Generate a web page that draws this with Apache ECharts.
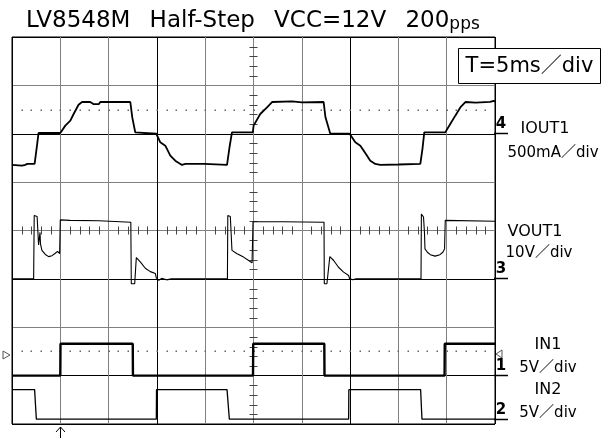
<!DOCTYPE html>
<html><head><meta charset="utf-8">
<script src="https://cdn.jsdelivr.net/npm/echarts@6/dist/echarts.min.js"></script>
<style>html,body{margin:0;padding:0;background:#fff}#c{width:614px;height:440px}</style>
</head><body><div id="c"></div>
<script>
// ---- data ----
// time axis: 0..50 ms (5 ms/div, 10 div)
const timeTicks = [0, 5, 10, 15, 20, 25, 30, 35, 40, 45, 50];
// IOUT1 [ms, mA]  (500 mA/div)
const iout1 = [[0,-322],[1.0,-330],[1.04,-340],[1.3,-325],[1.58,-312],[2.34,-312],[2.55,-150],[2.75,8],[5.0,8],[5.52,84],[6.04,135],[6.38,204],[6.89,300],[7.25,328],[8.1,328],[8.42,307],[9.0,307],[9.14,328],[12.25,328],[12.45,170],[12.76,14],[14.94,0],[15.35,-89],[15.87,-123],[16.39,-226],[16.9,-278],[17.6,-322],[17.94,-312],[19.91,-312],[20.0,-322],[22.26,-322],[22.5,-150],[22.77,14],[24.93,14],[25.01,84],[25.7,204],[26.4,272],[26.92,328],[29,335],[30,325],[32.26,328],[32.45,170],[32.95,0],[34.95,0],[35.54,-89],[36.06,-123],[36.57,-200],[37.09,-278],[37.61,-312],[38.13,-322],[40,-318],[42.27,-312],[42.5,-150],[42.68,14],[44.85,14],[45.37,101],[45.89,187],[46.41,272],[46.93,328],[48,322],[49.5,330],[49.86,340],[50,330]];
// VOUT1 [ms, V]  (10 V/div)
const vout1 = [[0,0],[2.24,0],[2.3,13.1],[2.6,12.9],[2.75,7.0],[2.9,9.6],[2.95,7.2],[3.1,5.9],[3.45,5.05],[3.79,4.6],[4.14,4.8],[4.48,5.3],[4.72,5.7],[4.93,5.2],[5.0,12.2],[6,12.1],[9,12.0],[12.3,11.7],[12.35,-1.0],[12.7,-1.0],[12.87,4.4],[13.28,3.5],[13.8,2.2],[14.32,1.5],[14.84,1.1],[14.94,0.2],[15.2,-0.3],[15.5,0.1],[16,-0.2],[16.5,0],[22.3,0],[22.34,13.1],[22.6,12.9],[22.77,5.9],[23.3,5.2],[23.97,4.5],[24.5,3.8],[24.85,3.3],[24.95,11.8],[28,11.8],[32.3,11.7],[32.33,-1.0],[32.6,-1.0],[32.9,4.6],[33.3,3.8],[33.8,2.4],[34.33,1.4],[34.85,0.7],[34.95,0],[35.3,-0.2],[35.6,0],[42.34,0],[42.38,13.4],[42.6,12.8],[42.7,9.5],[42.75,6.2],[43.0,5.5],[43.3,5.0],[43.8,4.7],[44.3,5.0],[44.6,5.5],[44.78,6.2],[44.85,12.1],[50,11.9]];
// IN1 [ms, V]  (5 V/div)
const in1 = [[0,0],[5.0,0],[5.02,3.3],[12.5,3.3],[12.52,0],[24.95,0],[24.97,3.3],[32.33,3.3],[32.35,0],[44.78,0],[44.8,3.3],[50,3.3]];
// IN2 [ms, V]  (5 V/div)
const in2 = [[0,3.05],[2.34,3.05],[2.52,0],[14.94,0],[14.96,3.05],[22.26,3.05],[22.5,0],[34.85,0],[34.87,3.05],[42.3,3.05],[42.44,0],[50,0]];

const GAP = '  \u2009';
const titleText = 'LV8548M' + GAP + 'Half-Step' + GAP + 'VCC=12V' + GAP + '200';
const titleSmall = 'pps';
const timebaseText = 'T=5ms\uFF0Fdiv';
const chLabels = [
  {mark:'4', name:'IOUT1', scale:'500mA\uFF0Fdiv'},
  {mark:'3', name:'VOUT1', scale:'10V\uFF0Fdiv'},
  {mark:'1', name:'IN1', scale:'5V\uFF0Fdiv'},
  {mark:'2', name:'IN2', scale:'5V\uFF0Fdiv'}
];

// ---- chart ----
const FONT = "'DejaVu Sans','Noto Sans CJK JP',sans-serif";
const chart = echarts.init(document.getElementById('c'), null, {renderer:'canvas'});
const GR = '#808080';
const xGridColors = ['#000',GR,GR,'#000',GR,GR,GR,'#000',GR,GR,'#000'];
const yGridColors = ['#000','#000',GR,'#000',GR,GR,'#000',GR,'#000'];

function graticule(params, api) {
  const kids = [];
  const cx = 25, cy = 4;
  for (let v = 0.2; v < 8; v += 0.2) {
    if (Math.abs(v - Math.round(v)) < 0.01) continue;
    const p = api.coord([cx, v]);
    const y = Math.round(p[1]) + 0.5;
    kids.push({type:'line', shape:{x1:p[0]-4, y1:y, x2:p[0]+4, y2:y}, style:{stroke:'#444', lineWidth:1}});
  }
  for (let t = 1; t < 50; t += 1) {
    if (t % 5 === 0) continue;
    const p = api.coord([t, cy]);
    const x = Math.round(p[0]) + 0.5;
    kids.push({type:'line', shape:{x1:x, y1:p[1]-4, x2:x, y2:p[1]+4}, style:{stroke:'#444', lineWidth:1}});
  }
  [6.5, 1.5].forEach(function(lv){
    for (let t = 1; t < 50; t += 1) {
      const p = api.coord([t, lv]);
      kids.push({type:'rect', shape:{x:Math.round(p[0])-0.5, y:Math.round(p[1])-0.5, width:1.5, height:1.5}, style:{fill:'#666'}});
    }
  });
  return {type:'group', children:kids};
}

const graphics = [
  {type:'rect', z:100, shape:{x:458.5, y:48.5, width:142, height:35}, style:{fill:'#fff', stroke:'#000', lineWidth:1}},
  {type:'text', z:101, x:529.5, y:67, style:{text:timebaseText, font:'21px '+FONT, fill:'#000', align:'center', verticalAlign:'middle'}},
  {type:'polyline', z:100, shape:{points:[[56,432],[60.5,427],[65,432]]}, style:{stroke:'#000', lineWidth:1, fill:null}},
  {type:'line', z:100, shape:{x1:60.5, y1:427, x2:60.5, y2:438}, style:{stroke:'#000', lineWidth:1}},
  {type:'polygon', z:100, shape:{points:[[3,351],[10,355],[3,359]]}, style:{stroke:'#555', fill:'#fff', lineWidth:1}},
  {type:'polygon', z:100, shape:{points:[[502,350],[496,354],[502,358]]}, style:{stroke:'#555', fill:'#fff', lineWidth:1}}
];
const markerY = [133.5, 278.5, 375.5, 419.5];
const nameY = [[129,153],[232,253],[345,368],[390,413]];
const nameX = [[545,553],[535,539],[548,548],[548,548]];
chLabels.forEach(function(c, i){
  graphics.push({type:'line', z:100, shape:{x1:494, y1:markerY[i], x2:508, y2:markerY[i]}, style:{stroke:'#000', lineWidth:1.5}});
  graphics.push({type:'text', z:100, x:501, y:markerY[i]-1.5, style:{text:c.mark, font:'bold 15px '+FONT, fill:'#000', align:'center', verticalAlign:'bottom'}});
  graphics.push({type:'text', z:100, x:nameX[i][0], y:nameY[i][0], style:{text:c.name, font:'16px '+FONT, fill:'#000', align:'center', verticalAlign:'middle'}});
  graphics.push({type:'text', z:100, x:nameX[i][1], y:nameY[i][1], style:{text:c.scale, font:'15px '+FONT, fill:'#000', align:'center', verticalAlign:'middle'}});
});

function trace(data, yi, w) {
  return {type:'line', data:data, xAxisIndex:0, yAxisIndex:yi, showSymbol:false, symbol:'none', z:5,
    lineStyle:{color:'#000', width:w}, silent:true};
}

chart.setOption({
  animation:false,
  backgroundColor:'#fff',
  title:{left:21, top:5, text:titleText + '{s|' + titleSmall + '}',
    textStyle:{fontFamily:FONT, fontSize:23, fontWeight:'normal', color:'#000',
      rich:{s:{fontFamily:FONT, fontSize:17, color:'#000', verticalAlign:'bottom'}}}},
  grid:{left:12, top:37, width:483, height:387, show:true, borderColor:'#000', borderWidth:1, backgroundColor:'#fff'},
  xAxis:{type:'value', min:timeTicks[0], max:timeTicks[timeTicks.length-1], interval:timeTicks[1]-timeTicks[0],
    axisLine:{show:false}, axisTick:{show:false}, axisLabel:{show:false},
    splitLine:{show:true, lineStyle:{color:xGridColors, width:1}}},
  yAxis:[
    {type:'value', min:0, max:8, interval:1, axisLine:{show:false}, axisTick:{show:false}, axisLabel:{show:false},
      splitLine:{show:true, lineStyle:{color:yGridColors, width:1}}},
    {type:'value', min:-3000, max:1000, show:false, splitLine:{show:false}},
    {type:'value', min:-30, max:50, show:false, splitLine:{show:false}},
    {type:'value', min:-5, max:35, show:false, splitLine:{show:false}},
    {type:'value', min:-0.5, max:39.5, show:false, splitLine:{show:false}}
  ],
  series:[
    {type:'custom', xAxisIndex:0, yAxisIndex:0, data:[[0,0]], renderItem:graticule, z:1, silent:true, clip:false},
    trace(iout1, 1, 1.8),
    trace(vout1, 2, 1.1),
    trace(in1, 3, 2.4),
    trace(in2, 4, 1.3)
  ],
  graphic:graphics
});
</script></body></html>
